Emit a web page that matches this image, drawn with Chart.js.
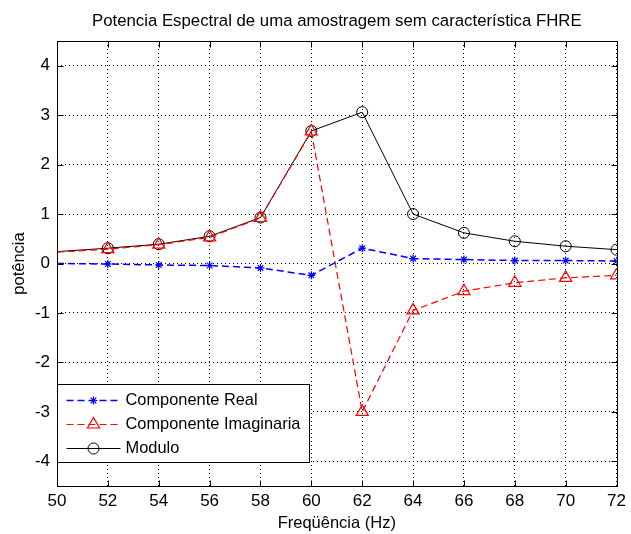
<!DOCTYPE html>
<html>
<head>
<meta charset="utf-8">
<script src="https://cdn.jsdelivr.net/npm/chart.js@4.4.0/dist/chart.umd.min.js"></script>
<style>
  html, body { margin: 0; padding: 0; background: #fff; }
  #wrap { width: 631px; height: 534px; position: relative; }
</style>
</head>
<body>
<div id="wrap"><canvas id="mycanvas"></canvas></div>
<script>
// spectrum samples (Hz) and the three components
var freq     = [50, 52, 54, 56, 58, 60, 62, 64, 66, 68, 70, 72];
var realPart = [0.00, -0.01, -0.03, -0.04, -0.09, -0.24, 0.31, 0.10, 0.08, 0.06, 0.06, 0.05];
var imagPart = [0.23, 0.29, 0.38, 0.53, 0.92, 2.67, -3.00, -0.95, -0.56, -0.39, -0.29, -0.24];
var modulo   = [0.24, 0.31, 0.39, 0.55, 0.93, 2.68, 3.06, 1.00, 0.62, 0.45, 0.35, 0.28];

var xTicks = [50, 52, 54, 56, 58, 60, 62, 64, 66, 68, 70, 72];
var yTicks = [-4, -3, -2, -1, 0, 1, 2, 3, 4];

var titleText = 'Potencia Espectral de uma amostragem sem característica FHRE';
var xLabel = 'Freqüência (Hz)';
var yLabel = 'potência';
var seriesNames = ['Componente Real', 'Componente Imaginaria', 'Modulo'];

var FONT = "'Liberation Sans', Arial, sans-serif";

function points(vals) {
    var out = [];
    for (var i in freq) {
        out.push({x: freq[i], y: vals[i]});
    }
    return out;
}

// markers sitting on the left edge are not drawn
function markerSize(r) {
    return function(ctx) {
        return freq[ctx.dataIndex] > xTicks[0] ? r : 0;
    };
}

function drawMarker(ctx, style, r, x, y) {
    ctx.beginPath();
    if (style == 'circle') {
        ctx.arc(x, y, r, 0, Math.PI * 2);
    } else if (style == 'triangle') {
        ctx.moveTo(x, y - r);
        ctx.lineTo(x + 0.866 * r, y + 0.5 * r);
        ctx.lineTo(x - 0.866 * r, y + 0.5 * r);
        ctx.closePath();
    } else {
        var d = r * Math.SQRT1_2;
        ctx.moveTo(x - r, y); ctx.lineTo(x + r, y);
        ctx.moveTo(x, y - r); ctx.lineTo(x, y + r);
        ctx.moveTo(x - d, y - d); ctx.lineTo(x + d, y + d);
        ctx.moveTo(x - d, y + d); ctx.lineTo(x + d, y - d);
    }
    ctx.stroke();
}

var datasets = [
    {
        label: seriesNames[0],
        data: points(realPart),
        borderColor: '#0000ff',
        backgroundColor: '#0000ff',
        borderWidth: 1.5,
        borderDash: [7, 4],
        pointStyle: 'star',
        pointRadius: markerSize(4),
        pointBorderWidth: 1.2,
        pointBorderColor: '#0000ff'
    },
    {
        label: seriesNames[1],
        data: points(imagPart),
        borderColor: '#ff0000',
        backgroundColor: 'rgba(0,0,0,0)',
        borderWidth: 1.2,
        borderDash: [7, 4],
        pointStyle: 'triangle',
        pointRadius: markerSize(7),
        pointBorderWidth: 1.2,
        pointBorderColor: '#ff0000',
        pointBackgroundColor: 'rgba(0,0,0,0)'
    },
    {
        label: seriesNames[2],
        data: points(modulo),
        borderColor: '#000000',
        backgroundColor: 'rgba(0,0,0,0)',
        borderWidth: 1,
        pointStyle: 'circle',
        pointRadius: markerSize(5.5),
        pointBorderWidth: 1,
        pointBorderColor: '#000000',
        pointBackgroundColor: 'rgba(0,0,0,0)'
    }
];

// axes box with inward ticks, title and legend
var framePlugin = {
    id: 'frame',
    afterDatasetsDraw: function(chart) {
        var ctx = chart.ctx;
        var a = chart.chartArea;
        var xs = chart.scales.x, ys = chart.scales.y;
        var L = Math.round(a.left) + 0.5, R = Math.round(a.right) + 0.5;
        var T = Math.round(a.top) + 0.5, B = Math.round(a.bottom) + 0.5;
        var tl = 6;

        ctx.save();
        ctx.strokeStyle = '#000';
        ctx.lineWidth = 1;
        ctx.setLineDash([]);
        ctx.strokeRect(L, T, R - L, B - T);
        ctx.beginPath();
        xTicks.forEach(function(v) {
            var px = Math.round(xs.getPixelForValue(v)) + 0.5;
            ctx.moveTo(px, B); ctx.lineTo(px, B - tl);
            ctx.moveTo(px, T); ctx.lineTo(px, T + tl);
        });
        yTicks.forEach(function(v) {
            var py = Math.round(ys.getPixelForValue(v)) + 0.5;
            ctx.moveTo(L, py); ctx.lineTo(L + tl, py);
            ctx.moveTo(R, py); ctx.lineTo(R - tl, py);
        });
        ctx.stroke();

        // title
        ctx.fillStyle = '#000';
        ctx.font = '16.8px ' + FONT;
        ctx.textAlign = 'center';
        ctx.textBaseline = 'middle';
        ctx.fillText(titleText, (a.left + a.right) / 2, 21);

        // legend box, lower left corner of the axes
        var bx = L, bw = 252, bh = 78;
        var by = Math.round(a.bottom - 24 - bh) + 0.5;
        ctx.fillStyle = '#fff';
        ctx.fillRect(bx, by, bw, bh);
        ctx.strokeRect(bx, by, bw, bh);

        ctx.font = '16.4px ' + FONT;
        ctx.textAlign = 'left';
        chart.data.datasets.forEach(function(ds, i) {
            var ry = Math.round(by + 15.5 + i * 24) + 0.5;
            ctx.strokeStyle = ds.borderColor;
            ctx.lineWidth = ds.borderWidth;
            ctx.setLineDash(ds.borderDash || []);
            ctx.beginPath();
            ctx.moveTo(bx + 9, ry);
            ctx.lineTo(bx + 63, ry);
            ctx.stroke();
            ctx.setLineDash([]);
            ctx.lineWidth = ds.pointBorderWidth;
            var r = ds.pointRadius({dataIndex: 1});
            drawMarker(ctx, ds.pointStyle, r, bx + 36, ry);
            ctx.fillStyle = '#000';
            ctx.fillText(ds.label, bx + 68, ry);
        });
        ctx.restore();
    }
};

var config = {
    type: 'line',
    data: { datasets: datasets },
    options: {
        responsive: true,
        maintainAspectRatio: false,
        animation: false,
        layout: { padding: { left: 0, right: 9, top: 41, bottom: 0 } },
        elements: { line: { tension: 0 } },
        plugins: {
            legend: { display: false },
            title: { display: false },
            tooltip: { enabled: false }
        },
        scales: {
            x: {
                type: 'linear',
                min: 50,
                max: 72,
                afterBuildTicks: function(scale) {
                    scale.ticks = xTicks.map(function(v) { return {value: v}; });
                },
                afterFit: function(scale) { scale.height = 48; },
                ticks: {
                    color: '#000',
                    padding: 5,
                    maxRotation: 0,
                    autoSkip: false,
                    font: { family: FONT, size: 17, lineHeight: 1.2 }
                },
                grid: { color: '#000', lineWidth: 1, drawTicks: false },
                border: { display: false, dash: [1, 3] },
                title: {
                    display: true,
                    text: xLabel,
                    color: '#000',
                    padding: { top: 0, bottom: 1 },
                    font: { family: FONT, size: 16.5, lineHeight: 1.2 }
                }
            },
            y: {
                type: 'linear',
                min: -4.5,
                max: 4.5,
                afterBuildTicks: function(scale) {
                    scale.ticks = yTicks.map(function(v) { return {value: v}; });
                },
                afterFit: function(scale) { scale.width = 57; },
                ticks: {
                    color: '#000',
                    padding: 7,
                    autoSkip: false,
                    font: { family: FONT, size: 17, lineHeight: 1.2 }
                },
                grid: { color: '#000', lineWidth: 1, drawTicks: false },
                border: { display: false, dash: [1, 3] },
                title: {
                    display: true,
                    text: yLabel,
                    color: '#000',
                    padding: { top: 10, bottom: 0 },
                    font: { family: FONT, size: 16.5, lineHeight: 1.2 }
                }
            }
        }
    },
    plugins: [framePlugin]
};

var ctx = document.getElementById('mycanvas').getContext('2d');
var spectrumChart = new Chart(ctx, config);
</script>
</body>
</html>
